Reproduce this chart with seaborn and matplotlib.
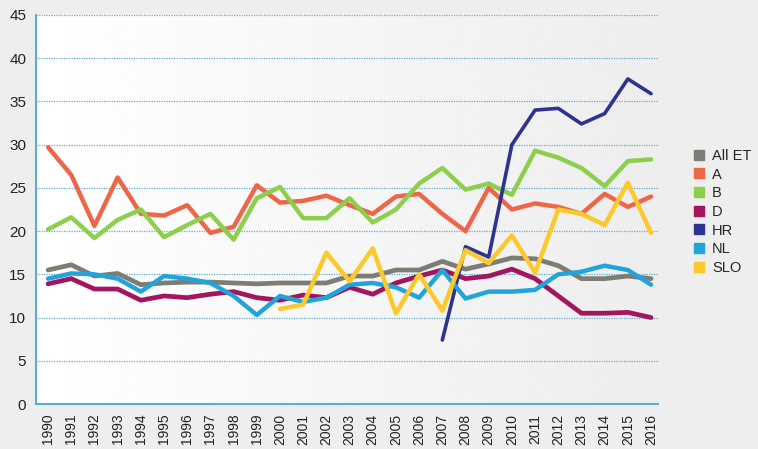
import numpy as np
import pandas as pd
import matplotlib
matplotlib.use("Agg")
import matplotlib.pyplot as plt
from matplotlib.lines import Line2D
import seaborn as sns

years = list(range(1990, 2017))
all_et = [15.5, 16.1, 14.8, 15.1, 13.8, 14.0, 14.1, 14.1, 14.0, 13.9, 14.0, 14.0, 14.0, 14.8, 14.8,
          15.5, 15.5, 16.5, 15.6, 16.2, 16.9, 16.8, 16.0, 14.5, 14.5, 14.8, 14.5]
a_vals = [29.7, 26.5, 20.6, 26.2, 22.0, 21.8, 23.0, 19.8, 20.5, 25.3, 23.3, 23.5, 24.1, 23.0, 22.0,
          24.0, 24.3, 22.0, 20.0, 25.0, 22.5, 23.2, 22.8, 22.0, 24.3, 22.8, 24.0]
b_vals = [20.2, 21.6, 19.2, 21.3, 22.5, 19.3, 20.7, 22.0, 19.0, 23.8, 25.1, 21.5, 21.5, 23.8, 21.0,
          22.5, 25.5, 27.3, 24.8, 25.5, 24.2, 29.3, 28.5, 27.3, 25.2, 28.1, 28.3]
d_vals = [13.9, 14.5, 13.3, 13.3, 12.0, 12.5, 12.3, 12.7, 13.0, 12.3, 12.0, 12.6, 12.3, 13.5, 12.7,
          14.0, 14.8, 15.5, 14.5, 14.8, 15.6, 14.5, 12.5, 10.5, 10.5, 10.6, 10.0]
hr_vals = [np.nan] * 17 + [7.4, 18.2, 17.0, 30.0, 34.0, 34.2, 32.4, 33.6, 37.6, 35.9]
nl_vals = [14.5, 15.1, 15.0, 14.5, 13.0, 14.8, 14.5, 14.0, 12.5, 10.3, 12.5, 11.8, 12.3, 13.8, 14.0,
           13.5, 12.3, 15.5, 12.2, 13.0, 13.0, 13.2, 15.0, 15.3, 16.0, 15.5, 13.8]
slo_vals = [np.nan] * 10 + [11.0, 11.5, 17.5, 14.2, 18.0, 10.5, 15.0, 10.8, 17.8, 16.3, 19.5,
                            15.2, 22.5, 22.0, 20.7, 25.6, 19.8]

series_names = ["All ET", "A", "B", "D", "HR", "NL", "SLO"]
series_vals = [all_et, a_vals, b_vals, d_vals, hr_vals, nl_vals, slo_vals]
colors = ["#7d7d75", "#ee6548", "#8ccf4d", "#a3155c", "#2d3391", "#22a3dc", "#fcc82c"]
widths = [3.4, 3.2, 3.2, 3.4, 2.6, 3.2, 3.2]

rows = []
for name, vals in zip(series_names, series_vals):
    for yr, v in zip(years, vals):
        rows.append({"year": yr, "value": v, "series": name})
df = pd.DataFrame(rows)

sns.set_style("white")
plt.rcParams["font.family"] = ["Liberation Sans", "DejaVu Sans"]

fig = plt.figure(figsize=(7.58, 4.49), dpi=100, facecolor="#eeeeee")
ax = fig.add_axes([36 / 758, 1 - 404 / 449, 622 / 758, 389 / 449])

# light background gradient inside the plot area
grad = np.linspace(1.0, 0.93, 256).reshape(1, -1)
ax.imshow(grad, extent=[1989.48, 2016.3, 0, 45], aspect="auto", cmap="gray",
          vmin=0, vmax=1, zorder=0)

for name, col, lw in zip(series_names, colors, widths):
    sub = df[df["series"] == name].dropna()
    sns.lineplot(data=sub, x="year", y="value", color=col, linewidth=lw, ax=ax,
                 solid_capstyle="round", solid_joinstyle="round", zorder=3)

ax.set_xlim(1989.48, 2016.3)
ax.set_ylim(0, 45)
ax.set_yticks(range(0, 46, 5))
ax.set_xticks(years)
ax.set_xticklabels([str(y) for y in years], rotation=90)
ax.set_xlabel("")
ax.set_ylabel("")
ax.grid(axis="y", color="#5aaed0", linestyle=(0, (1, 1)), linewidth=0.9, zorder=1)
ax.set_axisbelow(True)
for side in ["top", "right"]:
    ax.spines[side].set_visible(False)
for side in ["left", "bottom"]:
    ax.spines[side].set_color("#5aaed0")
    ax.spines[side].set_linewidth(1.5)
ax.tick_params(axis="both", direction="out", length=4, color="#5aaed0", width=1,
               labelcolor="#222222")
ax.tick_params(axis="y", labelsize=11, pad=3)
ax.tick_params(axis="x", labelsize=10, pad=3)

handles = [Line2D([0], [0], marker="s", linestyle="none", markersize=7,
                  markerfacecolor=c, markeredgecolor=c) for c in colors]
fig.legend(handles, series_names, loc="center left", bbox_to_anchor=(0.897, 0.528),
           frameon=False, fontsize=10.5, handletextpad=0.5, labelspacing=0.32,
           handlelength=0.8)

fig.savefig("out.png", dpi=100, facecolor=fig.get_facecolor())
